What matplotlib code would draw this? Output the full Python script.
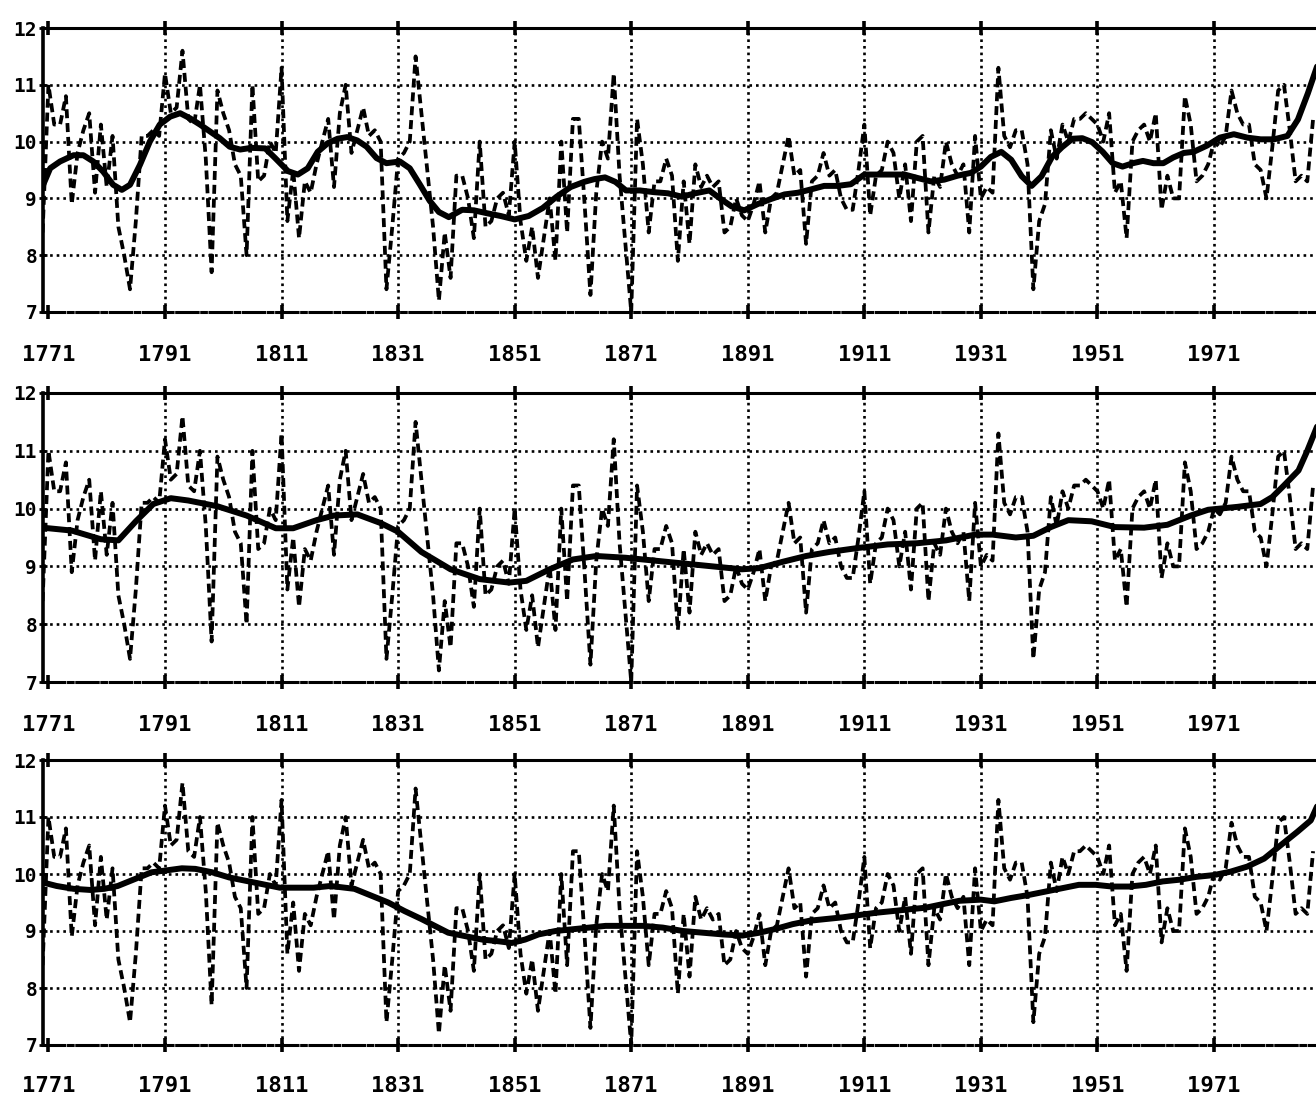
"""Annual mean temperature 1770-1988 with three smoothed trend curves (scan redraw)."""
import numpy as np
import matplotlib

matplotlib.use("Agg")
import matplotlib.pyplot as plt

# annual means, one value per year starting 1770
years = np.arange(1770, 1989)
annual = [
    8.4, 11.0, 10.3, 10.3, 10.8, 8.9, 9.8, 10.2, 10.5, 9.1,      # 1770-1779
    10.3, 9.2, 10.1, 8.5, 8.0, 7.4, 8.6, 10.1, 10.1, 10.2,      # 1780-1789
    10.1, 11.2, 10.5, 10.6, 11.6, 10.4, 10.3, 11.0, 9.7, 7.7,   # 1790-1799
    10.9, 10.5, 10.2, 9.6, 9.4, 8.0, 11.0, 9.3, 9.4, 10.0,      # 1800-1809
    9.8, 11.3, 8.6, 9.5, 8.3, 9.3, 9.1, 9.6, 10.0, 10.4,        # 1810-1819
    9.2, 10.5, 11.0, 9.8, 10.2, 10.6, 10.1, 10.2, 10.0, 7.4,    # 1820-1829
    8.5, 9.7, 9.8, 10.0, 11.5, 10.5, 9.5, 8.5, 7.2, 8.4,        # 1830-1839
    7.6, 9.4, 9.4, 9.0, 8.3, 10.0, 8.5, 8.6, 9.0, 9.1,          # 1840-1849
    8.7, 10.0, 8.6, 7.9, 8.5, 7.6, 8.3, 9.0, 7.9, 10.0,         # 1850-1859
    8.4, 10.4, 10.4, 8.9, 7.3, 9.1, 10.0, 9.7, 11.2, 9.4,       # 1860-1869
    8.2, 7.0, 10.4, 9.6, 8.4, 9.3, 9.3, 9.7, 9.4, 7.9,          # 1870-1879
    9.3, 8.2, 9.6, 9.2, 9.4, 9.2, 9.3, 8.4, 8.5, 9.0,           # 1880-1889
    8.7, 8.6, 8.9, 9.3, 8.4, 9.0, 9.1, 9.6, 10.1, 9.4,          # 1890-1899
    9.5, 8.2, 9.3, 9.4, 9.8, 9.4, 9.5, 9.0, 8.8, 8.8,           # 1900-1909
    9.5, 10.3, 8.7, 9.4, 9.5, 10.0, 9.8, 9.0, 9.6, 8.6,         # 1910-1919
    10.0, 10.1, 8.4, 9.4, 9.2, 10.0, 9.6, 9.4, 9.6, 8.4,        # 1920-1929
    10.1, 9.0, 9.2, 9.1, 11.3, 10.1, 9.9, 10.2, 10.2, 9.6,      # 1930-1939
    7.4, 8.6, 8.9, 10.2, 9.7, 10.3, 10.0, 10.4, 10.4, 10.5,     # 1940-1949
    10.4, 10.3, 10.0, 10.5, 9.1, 9.3, 8.3, 10.0, 10.2, 10.3,    # 1950-1959
    10.0, 10.5, 8.8, 9.4, 9.0, 9.0, 10.8, 10.3, 9.3, 9.4,       # 1960-1969
    9.6, 10.0, 9.9, 10.1, 10.9, 10.5, 10.3, 10.3, 9.6, 9.5,     # 1970-1979
    9.0, 9.9, 10.9, 11.0, 10.2, 9.3, 9.4, 9.3, 10.4,            # 1980-1988
]

# smoothed curve, top panel (short window)
smooth_a_years = [
    1770.1, 1771.3, 1773.0, 1775.3, 1777.0, 1778.7, 1780.4, 1782.1, 1783.6, 1785.0,
    1786.7, 1788.4, 1790.1, 1791.9, 1793.6, 1795.3, 1797.0, 1798.7, 1800.4, 1802.1,
    1803.9, 1805.8, 1808.2, 1809.9, 1812.1, 1813.8, 1815.5, 1817.2, 1818.9, 1820.6,
    1822.3, 1824.0, 1825.6, 1827.3, 1829.0, 1831.3, 1833.0, 1834.7, 1836.4, 1838.0,
    1839.7, 1842.0, 1844.0, 1846.2, 1848.6, 1851.0, 1853.4, 1855.8, 1858.2, 1860.6,
    1862.9, 1864.7, 1866.5, 1868.3, 1870.1, 1872.5, 1874.9, 1877.3, 1879.7, 1882.0,
    1884.4, 1886.5, 1888.2, 1890.4, 1892.7, 1895.0, 1897.3, 1899.6, 1901.9, 1904.1,
    1906.4, 1908.7, 1911.0, 1913.3, 1915.6, 1917.9, 1920.1, 1922.4, 1924.7, 1927.0,
    1929.3, 1931.0, 1932.7, 1934.5, 1936.2, 1938.0, 1939.7, 1941.4, 1943.2, 1944.9,
    1946.7, 1948.4, 1950.1, 1951.9, 1953.6, 1955.3, 1957.1, 1958.8, 1960.6, 1962.3,
    1964.0, 1965.8, 1967.5, 1969.8, 1972.0, 1974.4, 1976.7, 1979.0, 1981.3, 1983.6,
    1985.4, 1987.1, 1988.7, 1989.5,
]
smooth_a = [
    9.24, 9.53, 9.65, 9.76, 9.76, 9.65, 9.47, 9.24, 9.15, 9.24,
    9.59, 10.00, 10.30, 10.44, 10.50, 10.41, 10.30, 10.18, 10.06, 9.91,
    9.86, 9.89, 9.88, 9.71, 9.48, 9.42, 9.53, 9.82, 9.97, 10.05,
    10.08, 10.02, 9.91, 9.71, 9.62, 9.65, 9.53, 9.25, 8.96, 8.76,
    8.67, 8.80, 8.79, 8.74, 8.69, 8.63, 8.69, 8.83, 9.03, 9.20,
    9.29, 9.34, 9.37, 9.29, 9.14, 9.14, 9.11, 9.09, 9.03, 9.09,
    9.14, 8.98, 8.86, 8.79, 8.90, 8.99, 9.07, 9.10, 9.16, 9.22,
    9.22, 9.25, 9.42, 9.42, 9.42, 9.42, 9.36, 9.30, 9.33, 9.40,
    9.45, 9.56, 9.73, 9.82, 9.68, 9.39, 9.22, 9.39, 9.73, 9.90,
    10.05, 10.06, 9.99, 9.82, 9.62, 9.56, 9.62, 9.66, 9.62, 9.62,
    9.72, 9.80, 9.82, 9.93, 10.07, 10.13, 10.07, 10.04, 10.04, 10.10,
    10.39, 10.85, 11.33, 11.60,
]

# smoothed curve, middle panel
smooth_b_years = [
    1770, 1775, 1780, 1783, 1786, 1789, 1792, 1795, 1800, 1805,
    1810, 1813, 1817, 1820, 1824, 1828, 1831, 1835, 1840, 1845,
    1850, 1853, 1857, 1861, 1865, 1870, 1875, 1880, 1885, 1890,
    1893, 1897, 1901, 1905, 1910, 1915, 1920, 1925, 1930, 1933,
    1937, 1940, 1943, 1946, 1950, 1954, 1959, 1963, 1967, 1970,
    1975, 1979, 1981, 1983, 1985.5, 1987, 1989,
]
smooth_b = [
    9.67, 9.62, 9.47, 9.45, 9.78, 10.08, 10.18, 10.14, 10.04, 9.88,
    9.66, 9.66, 9.80, 9.88, 9.90, 9.75, 9.60, 9.25, 8.95, 8.78,
    8.72, 8.75, 8.95, 9.12, 9.18, 9.15, 9.10, 9.05, 9.00, 8.95,
    8.97, 9.08, 9.18, 9.25, 9.32, 9.38, 9.40, 9.45, 9.55, 9.55,
    9.50, 9.53, 9.68, 9.80, 9.78, 9.68, 9.67, 9.72, 9.88, 9.98,
    10.03, 10.08, 10.20, 10.40, 10.66, 11.00, 11.50,
]

# smoothed curve, bottom panel (long window)
smooth_c_years = [
    1770.1, 1772.4, 1775.3, 1778.2, 1780.6, 1782.9, 1785.8, 1788.7, 1791.0, 1793.9,
    1796.2, 1799.1, 1802.0, 1804.9, 1807.8, 1810.7, 1813.6, 1816.5, 1819.4, 1823.5,
    1826.4, 1829.3, 1832.1, 1835.0, 1837.3, 1839.6, 1842.5, 1845.4, 1848.2, 1850.5,
    1852.8, 1855.1, 1858.0, 1860.9, 1863.8, 1866.6, 1869.5, 1873.0, 1876.4, 1879.9,
    1883.3, 1886.7, 1890.1, 1893.0, 1895.9, 1898.7, 1901.6, 1904.4, 1907.3, 1910.1,
    1913.0, 1915.9, 1918.7, 1921.6, 1924.4, 1927.3, 1931.0, 1933.3, 1936.2, 1939.1,
    1942.0, 1944.9, 1947.8, 1950.7, 1953.5, 1956.4, 1959.3, 1962.2, 1965.1, 1968.0,
    1970.9, 1973.8, 1976.7, 1979.6, 1982.5, 1985.3, 1987.6, 1989.0, 1989.8,
]
smooth_c = [
    9.85, 9.79, 9.74, 9.72, 9.74, 9.79, 9.91, 10.03, 10.06, 10.10,
    10.09, 10.03, 9.94, 9.88, 9.82, 9.76, 9.76, 9.76, 9.79, 9.74,
    9.62, 9.50, 9.35, 9.21, 9.09, 8.97, 8.91, 8.85, 8.82, 8.79,
    8.85, 8.94, 9.00, 9.03, 9.06, 9.09, 9.09, 9.09, 9.06, 9.00,
    8.97, 8.94, 8.92, 8.97, 9.04, 9.12, 9.18, 9.21, 9.24, 9.28,
    9.32, 9.35, 9.38, 9.41, 9.47, 9.53, 9.55, 9.52, 9.58, 9.63,
    9.69, 9.75, 9.81, 9.81, 9.78, 9.78, 9.81, 9.87, 9.90, 9.95,
    9.98, 10.04, 10.13, 10.27, 10.51, 10.74, 10.94, 11.26, 11.55,
]

x_ticks = [1771, 1791, 1811, 1831, 1851, 1871, 1891, 1911, 1931, 1951, 1971]
grid_years = x_ticks[1:]
y_ticks = [7, 8, 9, 10, 11, 12]

W, H = 1316, 1095
X_MIN, X_MAX = 1770, 1990
PX_PER_YEAR = 5.828
LEFT_PX = 42.6

# (top px, bottom px, smooth years, smooth values, label pad)
panels = [
    (28, 312, smooth_a_years, smooth_a, 19),
    (393, 682, smooth_b_years, smooth_b, 19),
    (760, 1045, smooth_c_years, smooth_c, 17),
]

label_font = {"family": "DejaVu Sans Mono", "weight": "bold"}

fig = plt.figure(figsize=(W / 100, H / 100), dpi=100)
fig.patch.set_facecolor("white")

for top, bottom, sy, sv, pad in panels:
    width = (X_MAX - X_MIN) * PX_PER_YEAR / W
    ax = fig.add_axes([LEFT_PX / W, 1 - bottom / H, width, (bottom - top) / H])
    ax.set_xlim(X_MIN, X_MAX)
    ax.set_ylim(7, 12)

    for gx in grid_years:
        ax.axvline(gx, color="black", linewidth=1.9, linestyle=(0, (1, 1.5)), zorder=1)
    for gy in [8, 9, 10, 11]:
        ax.axhline(gy, color="black", linewidth=1.9, linestyle=(0, (1, 1.5)), zorder=1)

    ax.plot(years, annual, color="black", linewidth=2.7,
            linestyle=(0, (2.4, 1.3)), zorder=3)
    ax.plot(sy, sv, color="black", linewidth=4.3, solid_capstyle="round",
            solid_joinstyle="round", zorder=4)

    ax.spines["right"].set_visible(False)
    ax.spines["left"].set_linewidth(2.6)
    ax.spines["top"].set_linewidth(2.2)
    ax.spines["bottom"].set_linewidth(2.2)
    ax.spines["bottom"].set_linestyle((0, (7, 1.2, 1.5, 1.2)))

    ax.set_xticks(x_ticks)
    ax.set_xticklabels([str(t) for t in x_ticks], fontdict=label_font, fontsize=16)
    ax.set_yticks(y_ticks)
    ax.set_yticklabels([str(t) for t in y_ticks], fontdict=label_font, fontsize=14)
    ax.tick_params(axis="x", top=True, bottom=True, direction="inout",
                   length=10, width=2.6, pad=pad)
    ax.tick_params(axis="y", left=True, direction="inout", length=6,
                   width=2.0, pad=1)

fig.savefig("out.png", dpi=100, facecolor="white")
